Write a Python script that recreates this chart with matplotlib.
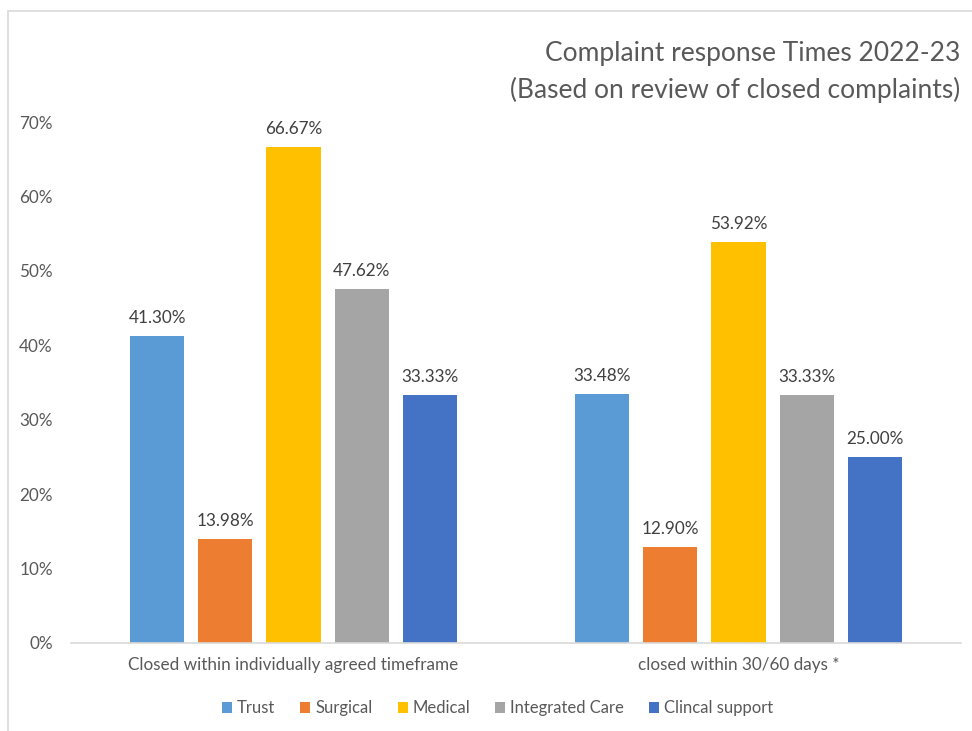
import numpy as np
import matplotlib.pyplot as plt
from matplotlib.patches import Rectangle
from matplotlib.ticker import PercentFormatter

categories = ["Closed within individually agreed timeframe", "closed within 30/60 days *"]
series_names = ["Trust", "Surgical", "Medical", "Integrated Care", "Clincal support"]
trust = [0.4130, 0.3348]
surgical = [0.1398, 0.1290]
medical = [0.6667, 0.5392]
integrated_care = [0.4762, 0.3333]
clinical_support = [0.3333, 0.2500]
series_values = [trust, surgical, medical, integrated_care, clinical_support]
colors = ["#5B9BD5", "#ED7D31", "#FFC000", "#A5A5A5", "#4472C4"]
y_ticks = [0, 0.1, 0.2, 0.3, 0.4, 0.5, 0.6, 0.7]
title_lines = ["Complaint response Times 2022-23", "(Based on review of closed complaints)"]

TEXT_COLOR = "#595959"
plt.rcParams["font.family"] = ["Lato", "DejaVu Sans"]

fig = plt.figure(figsize=(9.72, 7.31), dpi=100)
ax = fig.add_axes([0.073, 0.1204, 0.9157, 0.7127])

# chart border like the Excel chart area
fig.patches.append(Rectangle((8 / 972, -0.1), 1.2, 1 - 11 / 731 + 0.1,
                             transform=fig.transFigure, fill=False,
                             edgecolor="#d9d9d9", linewidth=1.2))

x = np.arange(len(categories))
step = 0.153
width = 0.1215
for i, (name, vals, color) in enumerate(zip(series_names, series_values, colors)):
    pos = x + (i - 2) * step
    bars = ax.bar(pos, vals, width=width, color=color, label=name, zorder=2)
    for b, v in zip(bars, vals):
        ax.annotate(f"{v * 100:.2f}%", (b.get_x() + b.get_width() / 2, v),
                    xytext=(0, 7), textcoords="offset points",
                    ha="center", va="bottom", fontsize=12.3, color="#404040")

ax.set_xlim(-0.5, 1.5)
ax.set_ylim(0, 0.7)
ax.set_yticks(y_ticks)
ax.yaxis.set_major_formatter(PercentFormatter(1.0, decimals=0))
ax.set_xticks(x)
ax.set_xticklabels(categories)
ax.tick_params(axis="both", length=0, labelsize=12.3, labelcolor=TEXT_COLOR)
ax.tick_params(axis="y", pad=13)
ax.tick_params(axis="x", pad=10)
for side in ["top", "right", "left"]:
    ax.spines[side].set_visible(False)
ax.spines["bottom"].set_color("#d9d9d9")
ax.spines["bottom"].set_linewidth(1.2)

for line, ypos in zip(title_lines, [1 - 53 / 731, 1 - 90 / 731]):
    fig.text(0.988, ypos, line, ha="right", va="center", fontsize=19, color=TEXT_COLOR)

fig.legend(loc="center", bbox_to_anchor=(0.512, 0.031), ncol=5, frameon=False,
           fontsize=12, labelcolor=TEXT_COLOR, handlelength=0.6, handleheight=0.6,
           handletextpad=0.3, columnspacing=1.5)

fig.savefig("out.png", dpi=100)
